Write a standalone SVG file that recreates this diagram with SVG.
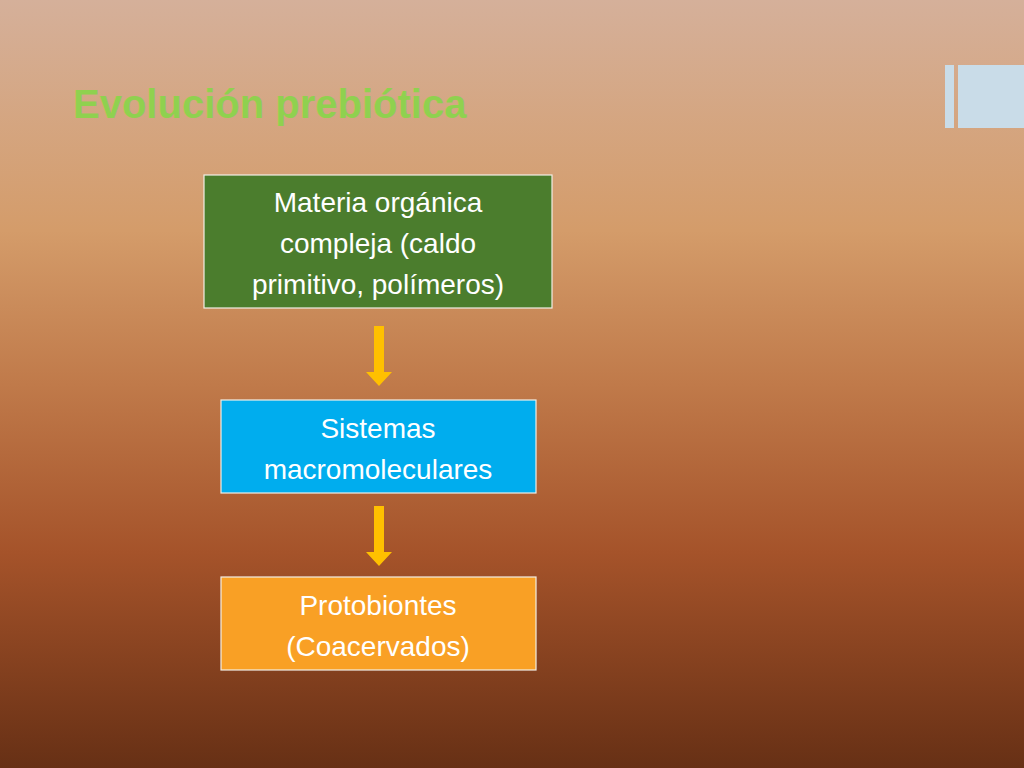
<svg xmlns="http://www.w3.org/2000/svg" width="1024" height="768" viewBox="0 0 1024 768">
<defs>
<linearGradient id="bg" x1="0" y1="0" x2="0" y2="1">
<stop offset="0" stop-color="#d5b09a"/>
<stop offset="0.3" stop-color="#d49c6a"/>
<stop offset="0.5" stop-color="#c07a4a"/>
<stop offset="0.72" stop-color="#a5532a"/>
<stop offset="1" stop-color="#673015"/>
</linearGradient>
<marker id="ah" markerUnits="userSpaceOnUse" markerWidth="26" markerHeight="16" refX="13" refY="0" viewBox="-13 -14 26 16" orient="auto-start-reverse" overflow="visible">
</marker>
</defs>
<style>
.box{stroke:#f2efe6;stroke-width:1.2}
.t{font-family:"Liberation Sans",Arial,sans-serif;font-size:28px;fill:#fff;text-anchor:middle}
.arr{fill:#ffc000}
</style>
<rect width="1024" height="768" fill="url(#bg)"/>
<rect x="945" y="65" width="9" height="63" fill="#c9dce8"/>
<rect x="958" y="65" width="66" height="63" fill="#c9dce8"/>
<text x="73" y="118" font-family="Liberation Sans,Arial,sans-serif" font-size="40" font-weight="bold" fill="#8fd14f">Evolución prebiótica</text>
<g id="connectors">
<path class="arr" d="M374 326h10v46h8l-13 14l-13-14h8z"/>
<path class="arr" d="M374 506h10v46h8l-13 14l-13-14h8z"/>
</g>
<g id="n1"><rect class="box" x="204" y="175" width="348" height="133" fill="#4b7d2d"/>
<text class="t" x="378" y="212">Materia orgánica</text><text class="t" x="378" y="253">compleja (caldo</text><text class="t" x="378" y="294">primitivo, polímeros)</text></g>
<g id="n2"><rect class="box" x="221" y="400" width="315" height="93" fill="#00adee"/>
<text class="t" x="378" y="438">Sistemas</text><text class="t" x="378" y="479">macromoleculares</text></g>
<g id="n3"><rect class="box" x="221" y="577" width="315" height="93" fill="#f9a025"/>
<text class="t" x="378" y="615">Protobiontes</text><text class="t" x="378" y="656">(Coacervados)</text></g>
</svg>
